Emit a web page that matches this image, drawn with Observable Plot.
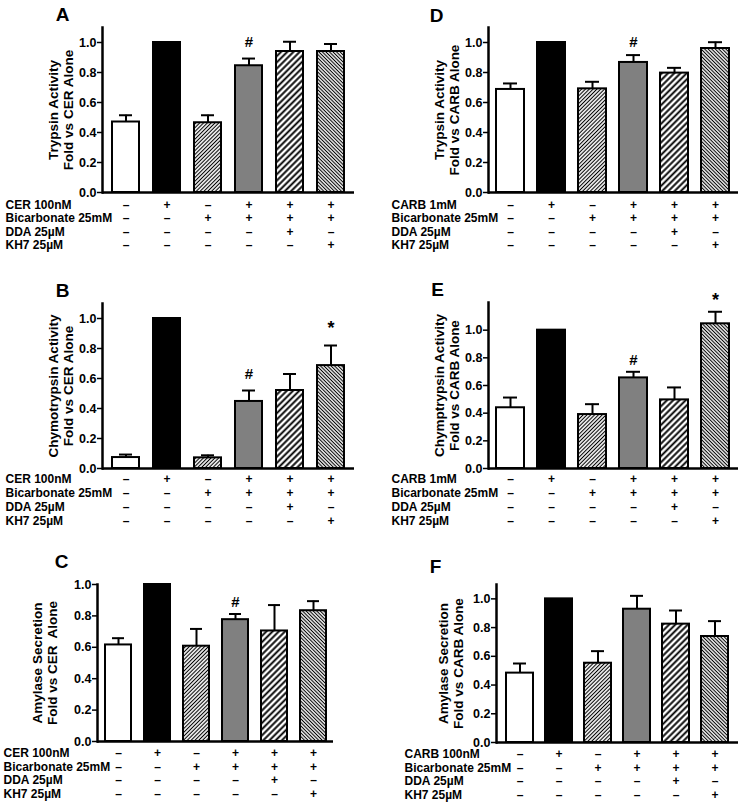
<!DOCTYPE html>
<html>
<head>
<meta charset="utf-8">
<script src="https://cdn.jsdelivr.net/npm/d3@7"></script>
<script src="https://cdn.jsdelivr.net/npm/@observablehq/plot@0.6"></script>
<style>
  html, body { margin: 0; padding: 0; background: white; }
  #fig { position: relative; width: 742px; height: 807px; background: white; overflow: hidden; }
  .panel { position: absolute; }
</style>
</head>
<body>
<svg width="0" height="0" style="position:absolute">
  <defs>
    <pattern id="hFine" patternUnits="userSpaceOnUse" width="2.7" height="2.7" patternTransform="rotate(45)">
      <rect width="2.7" height="2.7" fill="white"/>
      <line x1="1.35" y1="0" x2="1.35" y2="2.7" stroke="black" stroke-width="1.1"/>
    </pattern>
    <pattern id="hWide" patternUnits="userSpaceOnUse" width="4.4" height="4.4" patternTransform="rotate(45)">
      <rect width="4.4" height="4.4" fill="white"/>
      <line x1="2.2" y1="0" x2="2.2" y2="4.4" stroke="black" stroke-width="1.9"/>
    </pattern>
    <pattern id="hBack" patternUnits="userSpaceOnUse" width="2.5" height="2.5" patternTransform="rotate(-45)">
      <rect width="2.5" height="2.5" fill="white"/>
      <line x1="1.25" y1="0" x2="1.25" y2="2.5" stroke="black" stroke-width="1.1"/>
    </pattern>
  </defs>
</svg>
<div id="fig"></div>
<script>
// ---------------- data ----------------
const groups = ["g1", "g2", "g3", "g4", "g5", "g6"];
const yTicks = [0, 0.2, 0.4, 0.6, 0.8, 1.0];

// rows of the treatment table
const signsRow1 = ["–", "+", "–", "+", "+", "+"];
const signsRow2 = ["–", "–", "+", "+", "+", "+"];
const signsRow3 = ["–", "–", "–", "–", "+", "–"];
const signsRow4 = ["–", "–", "–", "–", "–", "+"];

const rowLabelsCER = ["CER 100nM", "Bicarbonate 25mM", "DDA 25\u00B5M", "KH7 25\u00B5M"];
const rowLabelsCARB1 = ["CARB 1mM", "Bicarbonate 25mM", "DDA 25\u00B5M", "KH7 25\u00B5M"];
const rowLabelsCARB100 = ["CARB 100nM", "Bicarbonate 25mM", "DDA 25\u00B5M", "KH7 25\u00B5M"];

// Panel A: trypsin, CER
const meanA = [0.47, 1.0, 0.465, 0.845, 0.94, 0.94];
const semA  = [0.045, 0, 0.05, 0.048, 0.065, 0.05];
// Panel B: chymotrypsin, CER
const meanB = [0.073, 1.0, 0.071, 0.447, 0.52, 0.686];
const semB  = [0.02, 0, 0.017, 0.073, 0.11, 0.134];
// Panel C: amylase, CER
const meanC = [0.615, 1.0, 0.607, 0.776, 0.704, 0.833];
const semC  = [0.043, 0, 0.11, 0.036, 0.165, 0.061];
// Panel D: trypsin, CARB
const meanD = [0.687, 1.0, 0.691, 0.867, 0.796, 0.96];
const semD  = [0.04, 0, 0.047, 0.049, 0.035, 0.042];
// Panel E: chymotrypsin, CARB
const meanE = [0.439, 1.0, 0.39, 0.655, 0.496, 1.046];
const semE  = [0.074, 0, 0.075, 0.044, 0.09, 0.087];
// Panel F: amylase, CARB
const meanF = [0.483, 1.0, 0.552, 0.928, 0.824, 0.738];
const semF  = [0.067, 0, 0.084, 0.093, 0.095, 0.107];

// significance marks: [symbol, group, value at which it is drawn]
const annotA = [["#", "g4", 1.0]];
const annotB = [["#", "g4", 0.628], ["*", "g6", 0.96]];
const annotC = [["#", "g4", 0.888]];
const annotD = [["#", "g4", 1.0]];
const annotE = [["#", "g4", 0.78], ["*", "g6", 1.246]];
const annotF = [];

// ---------------- styling ----------------
const fills = ["white", "black", "url(#hFine)", "#808080", "url(#hWide)", "url(#hBack)"];
const FONT = "'Liberation Sans', Arial, Helvetica, sans-serif";

const panels = [
  {letter: "A", title: "Trypsin Activity\nFold vs CER Alone", mean: meanA, sem: semA, annot: annotA, labels: rowLabelsCER, ymax: 1.1,
   left: 0, top: 0, width: 371, height: 262, mL: 102, mR: 17, mT: 27, mB: 70, pI: 0.33, pO: 0.2,
   letterDx: -40, letterDy: -13, titleDx: -41.5, titleDy: 0, labelDx: -97, rowDy: [16, 29.5, 43, 56.5]},
  {letter: "D", title: "Trypsin Activity\nFold vs CARB Alone", mean: meanD, sem: semD, annot: annotD, labels: rowLabelsCARB1, ymax: 1.1,
   left: 371, top: 0, width: 371, height: 262, mL: 117, mR: 4, mT: 27, mB: 70, pI: 0.315, pO: 0.19,
   letterDx: -52, letterDy: -12, titleDx: -41.5, titleDy: 0, labelDx: -97, rowDy: [16, 29.5, 43, 56.5]},
  {letter: "B", title: "Chymotrypsin Activity\nFold vs CER Alone", mean: meanB, sem: semB, annot: annotB, labels: rowLabelsCER, ymax: 1.1,
   left: 0, top: 270, width: 371, height: 262, mL: 102, mR: 17, mT: 33, mB: 64, pI: 0.33, pO: 0.2,
   letterDx: -40, letterDy: -13, titleDx: -41.5, titleDy: 0, labelDx: -97, rowDy: [14, 28, 42, 56]},
  {letter: "E", title: "Chymptrypsin Activity\nFold vs CARB Alone", mean: meanE, sem: semE, annot: annotE, labels: rowLabelsCARB1, ymax: 1.2,
   left: 371, top: 270, width: 371, height: 262, mL: 117, mR: 4, mT: 32, mB: 64, pI: 0.315, pO: 0.19,
   letterDx: -51, letterDy: -13, titleDx: -41.5, titleDy: 0, labelDx: -97, rowDy: [14, 28, 42, 56]},
  {letter: "C", title: "Amylase Secretion\nFold vs CER  Alone", mean: meanC, sem: semC, annot: annotC, labels: rowLabelsCER, ymax: 1.0,
   left: 0, top: 540, width: 371, height: 267, mL: 97, mR: 38, mT: 44, mB: 66, pI: 0.334, pO: 0.126,
   letterDx: -36, letterDy: -23, titleDx: -52.5, titleDy: 0, labelDx: -94, rowDy: [15.5, 29, 42.5, 56]},
  {letter: "F", title: "Amylase Secretion\nFold vs CARB Alone", mean: meanF, sem: semF, annot: annotF, labels: rowLabelsCARB100, ymax: 1.1,
   left: 371, top: 540, width: 371, height: 267, mL: 125, mR: 4, mT: 44, mB: 65, pI: 0.31, pO: 0.2,
   letterDx: -61, letterDy: -18, titleDx: -46, titleDy: 0, labelDx: -92, rowDy: [15.5, 29, 42.5, 56]}
];

const signRows = [signsRow1, signsRow2, signsRow3, signsRow4];
const fig = document.getElementById("fig");

for (const p of panels) {
  const data = groups.map((g, i) => ({g, v: p.mean[i], sem: p.sem[i], i}));
  const withErr = data.filter(d => d.sem > 0);
  const annots = p.annot.map(([s, g, y]) => ({s, g, y}));

  const marks = [
    Plot.barY(data, {x: "g", y: "v", fill: "g", stroke: "black", strokeWidth: 2}),
    Plot.ruleX(withErr, {x: "g", y1: "v", y2: d => d.v + d.sem, stroke: "black", strokeWidth: 2}),
    Plot.tickY(withErr, {x: "g", y: d => d.v + d.sem, stroke: "black", strokeWidth: 2, insetLeft: 7, insetRight: 7}),
    Plot.frame({anchor: "left", stroke: "black", strokeWidth: 2.5}),
    Plot.ruleY([0], {stroke: "black", strokeWidth: 2.5}),
    Plot.axisY({ticks: yTicks, tickFormat: d3.format(".1f"), tickSize: 5, tickPadding: 1, strokeWidth: 1.5,
                fontSize: 12.5, fontWeight: "bold", label: null}),
    // significance symbols
    Plot.text(annots.filter(d => d.s === "#"), {x: "g", y: "y", text: "s", fontSize: 15, fontWeight: "bold"}),
    Plot.text(annots.filter(d => d.s === "*"), {x: "g", y: "y", text: "s", fontSize: 18, fontWeight: "bold", dy: 4}),
    // panel letter
    Plot.text([p.letter], {frameAnchor: "top-left", text: d => d, textAnchor: "middle", lineAnchor: "middle",
                           dx: p.letterDx, dy: p.letterDy, fontSize: 19, fontWeight: "bold"}),
    // y title
    Plot.text([p.title], {frameAnchor: "left", text: d => d, rotate: -90, textAnchor: "middle", lineAnchor: "middle",
                          dx: p.titleDx, dy: p.titleDy, fontSize: 13.5, fontWeight: "bold", lineHeight: 1.12}),
  ];
  // treatment table
  signRows.forEach((row, r) => {
    marks.push(Plot.text(data, {x: "g", text: d => row[d.i], frameAnchor: "bottom", dy: p.rowDy[r], fontSize: 12, fontWeight: "bold"}));
    marks.push(Plot.text([p.labels[r]], {text: d => d, frameAnchor: "bottom-left", textAnchor: "start",
                                         dx: p.labelDx, dy: p.rowDy[r], fontSize: 12, fontWeight: "bold"}));
  });

  const chart = Plot.plot({
    width: p.width, height: p.height,
    marginLeft: p.mL, marginRight: p.mR, marginTop: p.mT, marginBottom: p.mB,
    x: {type: "band", domain: groups, paddingInner: p.pI, paddingOuter: p.pO, axis: null},
    y: {domain: [0, p.ymax], axis: null},
    color: {type: "ordinal", domain: groups, range: fills},
    style: {fontFamily: FONT, fontWeight: "bold", fontSize: "12px", background: "white", color: "black", overflow: "visible"},
    marks
  });
  const div = document.createElement("div");
  div.className = "panel";
  div.style.left = p.left + "px";
  div.style.top = p.top + "px";
  div.appendChild(chart);
  fig.appendChild(div);
}
</script>
</body>
</html>
